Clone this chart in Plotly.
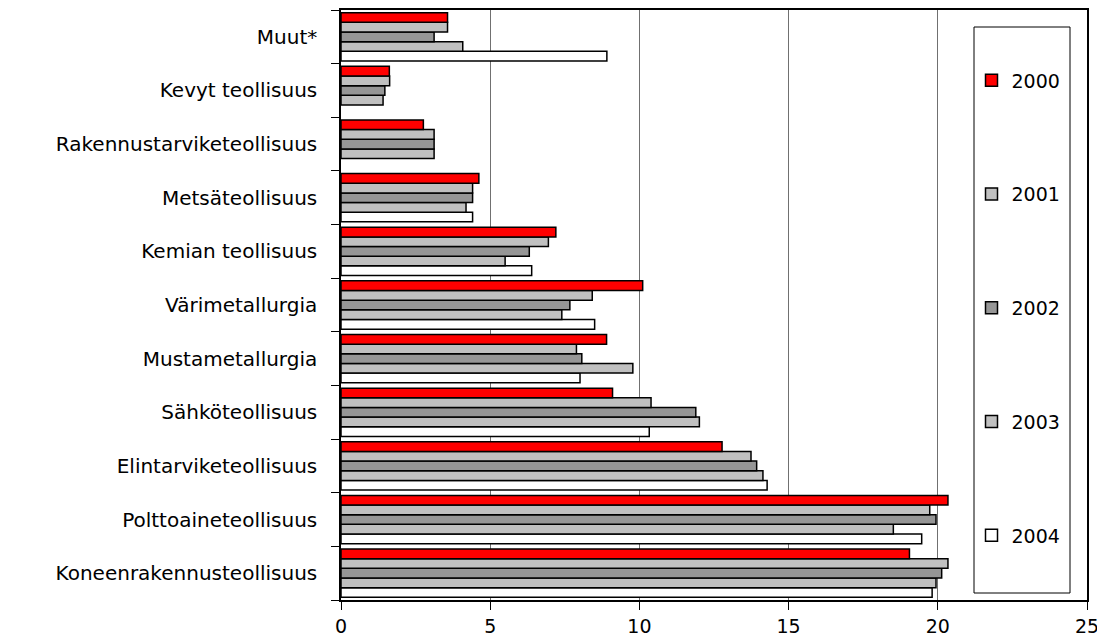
import plotly.graph_objects as go

categories = ["Koneenrakennusteollisuus", "Polttoaineteollisuus", "Elintarviketeollisuus",
              "Sähköteollisuus", "Mustametallurgia", "Värimetallurgia", "Kemian teollisuus",
              "Metsäteollisuus", "Rakennustarviketeollisuus", "Kevyt teollisuus", "Muut*"]

v2000 = [19.05, 20.34, 12.77, 9.10, 8.90, 10.11, 7.20, 4.62, 2.76, 1.62, 3.57]
v2001 = [20.34, 19.73, 13.74, 10.39, 7.89, 8.42, 6.95, 4.41, 3.12, 1.63, 3.57]
v2002 = [20.13, 19.94, 13.93, 11.89, 8.07, 7.67, 6.31, 4.41, 3.12, 1.47, 3.12]
v2003 = [19.94, 18.51, 14.14, 12.01, 9.78, 7.40, 5.50, 4.19, 3.12, 1.41, 4.08]
v2004 = [19.81, 19.46, 14.28, 10.33, 8.01, 8.50, 6.39, 4.41, None, None, 8.91]

years = ["2000", "2001", "2002", "2003", "2004"]
series = [v2000, v2001, v2002, v2003, v2004]
colors = ["#FF0000", "#C0C0C0", "#969696", "#C0C0C0", "#FFFFFF"]

FONT = "DejaVu Sans"

fig = go.Figure()
# add in reverse order so 2000 is drawn at the top of each group
entries = list(zip(years, series, colors))
for rank, (yr, vals, col) in reversed(list(enumerate(entries))):
    fig.add_trace(go.Bar(
        y=categories, x=vals, name=yr, orientation="h",
        marker=dict(color=col, line=dict(color="black", width=1.5)),
        legendgroup=yr, legendrank=rank + 1,
    ))

# the page body has an 8px margin; lay out in window pixels and compensate
OFF = 8
W, H = 1105 - OFF, 641 - OFF
PL, PR, PT, PB = 341, 1087, 10, 600          # plot area in window pixels
L, R, T, B = PL - OFF, W - (PR - OFF), PT - OFF, H - (PB - OFF)
pw, ph = W - L - R, H - T - B

def px_x(p):
    return (p - PL) / pw

def px_y(p):
    return (PB - p) / ph

fig.update_layout(
    width=W, height=H,
    margin=dict(l=L, r=R, t=T, b=B, autoexpand=False),
    paper_bgcolor="white", plot_bgcolor="white",
    barmode="group", bargap=0.1, bargroupgap=0,
    font=dict(family=FONT, size=20, color="black"),
    showlegend=True,
    legend=dict(
        x=px_x(971.5), y=px_y(61.5), xanchor="left", yanchor="top",
        traceorder="grouped", tracegroupgap=86,
        bgcolor="rgba(0,0,0,0)", borderwidth=0,
        font=dict(family=FONT, size=19, color="black"),
    ),
    shapes=[dict(type="rect", xref="paper", yref="paper",
                 x0=px_x(974), x1=px_x(1070), y0=px_y(593), y1=px_y(27),
                 line=dict(color="black", width=1), layer="above")],
)

fig.update_xaxes(
    range=[0, 25], dtick=5, tick0=0,
    showgrid=True, gridcolor="#707070", gridwidth=1,
    showline=True, linecolor="black", linewidth=1.5, mirror=True,
    ticks="outside", ticklen=8, tickcolor="black",
    zeroline=False, automargin=False,
    tickfont=dict(family=FONT, size=19),
)
fig.update_yaxes(
    type="category", categoryorder="array", categoryarray=categories,
    showgrid=False,
    showline=True, linecolor="black", linewidth=1.5, mirror=True,
    ticks="outside", ticklen=8, tickcolor="black", tickson="boundaries",
    ticklabelstandoff=18, automargin=False,
    tickfont=dict(family=FONT, size=20),
)

fig.write_html("out.html")
